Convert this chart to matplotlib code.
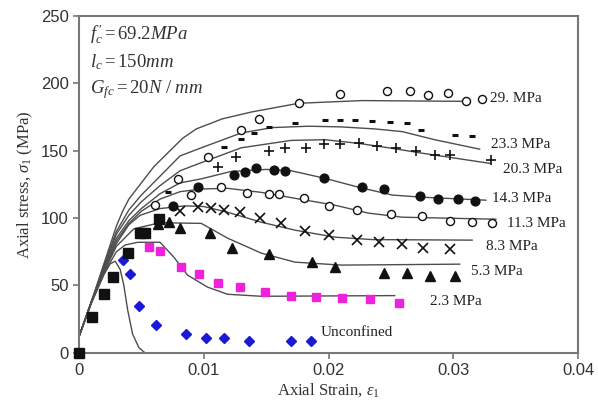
import matplotlib
matplotlib.use("Agg")
import matplotlib.pyplot as plt

plt.rcParams['mathtext.fontset'] = 'custom'
plt.rcParams['mathtext.rm'] = 'Liberation Serif'
plt.rcParams['mathtext.it'] = 'Liberation Serif:italic'

# ---- model curves (strain, stress in MPa) ----
m29_x = [0, 0.001, 0.002, 0.003, 0.0035, 0.004, 0.005, 0.006, 0.0072, 0.0083, 0.0094, 0.0115, 0.0138, 0.0176, 0.0227, 0.0313]
m29_y = [12, 38, 66, 94, 105, 114, 126, 138, 149, 159, 166, 173.5, 178.5, 185, 187, 186.4]
m23_x = [0, 0.001, 0.002, 0.003, 0.004, 0.005, 0.0065, 0.0081, 0.0098, 0.013, 0.0155, 0.0184, 0.021, 0.0237, 0.0259, 0.0285, 0.0321]
m23_y = [12, 38, 65, 90, 106, 117, 131, 146, 152, 163, 167, 168, 167.5, 166, 164, 158, 151]
m20_x = [0, 0.001, 0.002, 0.003, 0.004, 0.005, 0.0065, 0.0081, 0.0098, 0.013, 0.017, 0.0197, 0.0224, 0.0251, 0.0275, 0.0329]
m20_y = [12, 38, 64, 88, 102, 112, 124, 135, 141, 152, 157.5, 158, 155.3, 151.6, 148, 140.5]
m14_x = [0, 0.001, 0.002, 0.003, 0.004, 0.005, 0.0065, 0.0081, 0.0098, 0.0122, 0.015, 0.017, 0.0197, 0.0224, 0.0251, 0.0275, 0.0326]
m14_y = [12, 38, 63, 85, 98, 107, 118, 126, 129, 134.5, 136, 135, 129.4, 122.8, 117, 115.4, 113.2]
m11_x = [0, 0.001, 0.002, 0.003, 0.004, 0.005, 0.0065, 0.0081, 0.0098, 0.0119, 0.0146, 0.0173, 0.0205, 0.0232, 0.0259, 0.0334]
m11_y = [12, 38, 62, 83, 96, 105, 114, 119.5, 121.5, 122, 119, 114.6, 109.5, 103.6, 100.6, 99.1]
m8_x = [0, 0.001, 0.002, 0.003, 0.004, 0.0049, 0.0065, 0.0085, 0.0100, 0.0119, 0.0146, 0.0173, 0.0205, 0.0235, 0.0315]
m8_y = [12, 38, 61, 81, 95, 102, 107, 109, 108.5, 104.3, 96.9, 91, 85.8, 84, 83.6]
m5_x = [0, 0.001, 0.002, 0.003, 0.0044, 0.0065, 0.0098, 0.0119, 0.0146, 0.0173, 0.021, 0.0305]
m5_y = [12, 38, 60, 79, 92, 96.5, 96, 85.1, 74, 67.3, 65.1, 65.8]
m2_x = [0, 0.001, 0.002, 0.003, 0.0037, 0.0047, 0.0065, 0.0076, 0.0087, 0.0103, 0.0119, 0.0146, 0.0253]
m2_y = [12, 37, 59, 75, 80, 82, 82, 71, 57.7, 48.8, 43.5, 42, 42.5]
m0_x = [0, 0.001, 0.002, 0.0025, 0.0029, 0.0033, 0.0036, 0.0039, 0.0043, 0.0048, 0.0053]
m0_y = [12, 37, 58, 66, 68, 62, 50, 32, 14, 4, 0]

# ---- test data ----
sq_x = [0, 0.00105, 0.002, 0.0027, 0.0039, 0.0049, 0.0053, 0.0064]
sq_y = [0, 27, 44, 56, 74, 89, 89, 99]
t29_x = [0.0079, 0.0103, 0.013, 0.0144, 0.0176, 0.0209, 0.0247, 0.0265, 0.028, 0.0296, 0.031, 0.0323]
t29_y = [128.7, 145, 165, 173, 185, 191.6, 193.8, 193.8, 190.8, 192.3, 187, 187.9]
t23_x = [0.0071, 0.0116, 0.013, 0.014, 0.0152, 0.0173, 0.0197, 0.0209, 0.0221, 0.0235, 0.0249, 0.0263, 0.0274, 0.0301, 0.0315]
t23_y = [119, 152.4, 158.3, 162.7, 167.2, 170.1, 172.3, 172.3, 172.3, 171.6, 170.9, 170.1, 164.9, 161.2, 160.5]
t20_x = [0.0111, 0.0126, 0.0152, 0.0165, 0.0182, 0.0196, 0.0209, 0.0224, 0.0239, 0.0254, 0.027, 0.0285, 0.0297, 0.033]
t20_y = [137.6, 145, 149.4, 151.6, 151.6, 154.6, 154.6, 155.3, 153.1, 151.6, 149.4, 146.4, 146.4, 142.8]
t14_x = [0.0075, 0.0095, 0.0124, 0.0133, 0.0142, 0.0156, 0.0165, 0.0196, 0.0227, 0.0244, 0.0273, 0.0288, 0.0304, 0.0317]
t14_y = [108.7, 122.8, 131.7, 133.9, 136.8, 135.4, 134.6, 129.4, 122.8, 121.3, 116.1, 113.9, 113.9, 112.4]
t11_x = [0.0061, 0.009, 0.0114, 0.0135, 0.0152, 0.016, 0.018, 0.02, 0.0223, 0.025, 0.0275, 0.0297, 0.0315, 0.0331]
t11_y = [109.5, 116.9, 122.8, 118.3, 117.6, 117.6, 114.6, 108.7, 105.8, 102.8, 101.3, 97.6, 96.9, 96.2]
t8_x = [0.0081, 0.0095, 0.0106, 0.0116, 0.0129, 0.0145, 0.0162, 0.0181, 0.02, 0.0223, 0.024, 0.0259, 0.0276, 0.0297]
t8_y = [105, 108, 107.2, 105.8, 104.3, 99.9, 96.2, 90.2, 87.3, 83.6, 82.1, 80.6, 77.7, 76.9]
t5_x = [0.0063, 0.0072, 0.0081, 0.0105, 0.0123, 0.0152, 0.0187, 0.0205, 0.0244, 0.0263, 0.0281, 0.0301]
t5_y = [95.4, 96.9, 92.5, 88.8, 77.7, 73.2, 67.3, 63.6, 59.2, 59.2, 57, 57]
t2_x = [0.0056, 0.0065, 0.0082, 0.0096, 0.0111, 0.0129, 0.0149, 0.017, 0.019, 0.0211, 0.0233, 0.0256]
t2_y = [78.4, 75.4, 63.6, 58.4, 51.8, 48.8, 45.1, 42.2, 41.4, 40.7, 39.9, 37]
t0_x = [0.0035, 0.0041, 0.0048, 0.0062, 0.0086, 0.0102, 0.0116, 0.0136, 0.017, 0.0186]
t0_y = [68.9, 58.5, 34.8, 20.7, 14, 11.1, 11.1, 8.9, 8.9, 8.9]

labels = ["29. MPa", "23.3 MPa", "20.3 MPa", "14.3 MPa", "11.3 MPa", "8.3 MPa", "5.3 MPa", "2.3 MPa", "Unconfined"]
label_x = [0.0329, 0.0330, 0.0340, 0.0331, 0.0343, 0.0326, 0.0314, 0.0281, 0.0194]
label_y = [188.5, 154.5, 136, 114.5, 96, 79, 60.5, 38, 15]

fig = plt.figure(figsize=(5.98, 4.09), dpi=100)
ax = fig.add_axes([0.132, 0.137, 0.835, 0.825])

lc = '#4d4d4d'
for mx, my in [(m29_x, m29_y), (m23_x, m23_y), (m20_x, m20_y), (m14_x, m14_y),
               (m11_x, m11_y), (m8_x, m8_y), (m5_x, m5_y), (m2_x, m2_y), (m0_x, m0_y)]:
    ax.plot(mx, my, color=lc, lw=1.0, zorder=2)

k = '#111111'
ax.plot(t29_x, t29_y, 'o', ms=5.8, mfc='white', mec=k, mew=1.0, ls='none', zorder=3)
ax.plot(t11_x, t11_y, 'o', ms=5.8, mfc='white', mec=k, mew=1.0, ls='none', zorder=3)
ax.plot(t23_x, t23_y, '_', ms=5, mec=k, mew=2.2, ls='none', zorder=3)
ax.plot(t20_x, t20_y, '+', ms=7, mec=k, mew=1.2, ls='none', zorder=3)
ax.plot(t14_x, t14_y, 'o', ms=6.3, color=k, ls='none', zorder=3)
ax.plot(t8_x, t8_y, 'x', ms=6.5, mec=k, mew=1.2, ls='none', zorder=3)
ax.plot(t5_x, t5_y, '^', ms=6.8, color=k, ls='none', zorder=3)
ax.plot(t2_x, t2_y, 's', ms=5.8, color='#ee22dd', ls='none', zorder=3)
ax.plot(t0_x, t0_y, 'D', ms=4.8, color='#1a1ad6', ls='none', zorder=3)
ax.plot(sq_x, sq_y, 's', ms=6.5, color=k, ls='none', zorder=4, clip_on=False)

for t, x, y in zip(labels, label_x, label_y):
    ax.text(x, y, t, fontsize=11, family='Liberation Serif', va='center', ha='left', color='#222222')

ax.text(0.0009, 236.5, r"$f^{\,\prime}_{c} = 69.2MPa$", fontsize=13.5, color='#333333', va='center')
ax.text(0.0009, 215.5, r"$l_c = 150mm$", fontsize=13.5, color='#333333', va='center')
ax.text(0.0009, 195.5, r"$G_{fc} = 20N\ /\ mm$", fontsize=13.5, color='#333333', va='center')

ax.set_xlim(0, 0.04)
ax.set_ylim(0, 250)
ax.set_xticks([0, 0.01, 0.02, 0.03, 0.04])
ax.set_xticklabels(["0", "0.01", "0.02", "0.03", "0.04"])
ax.set_yticks([0, 50, 100, 150, 200, 250])
ax.tick_params(direction='out', length=4, width=1.2, color='#777777',
               labelsize=12, labelcolor='#333333')
for lab in ax.get_xticklabels() + ax.get_yticklabels():
    lab.set_family('Liberation Sans')
for s in ax.spines.values():
    s.set_color('#777777')
    s.set_linewidth(1.5)

ax.set_xlabel(r"Axial Strain, $\varepsilon_1$", fontsize=12, family='Liberation Serif', color='#333333', labelpad=2)
ax.set_ylabel(r"Axial stress, $\sigma_1$ (MPa)", fontsize=12, family='Liberation Serif', color='#333333', labelpad=4)

fig.savefig("out.png", dpi=100)
